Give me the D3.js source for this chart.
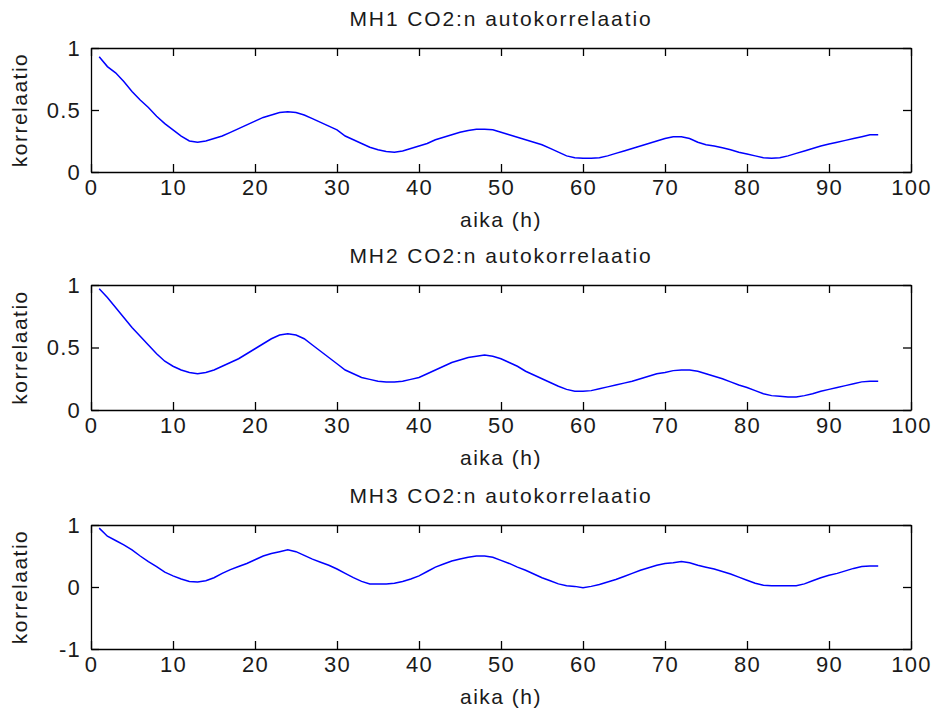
<!DOCTYPE html>
<html>
<head>
<meta charset="utf-8">
<script src="https://cdn.jsdelivr.net/npm/d3@7"></script>
<style>
  body { margin: 0; background: #fff; }
  text { font-family: "Liberation Sans", Arial, sans-serif; fill: #1a1a1a; }
</style>
</head>
<body>
<svg width="933" height="713"></svg>
<script>
// lag in hours
const lag = d3.range(1, 97);

const mh1 = [0.93, 0.85, 0.80, 0.73, 0.65, 0.58, 0.52, 0.45, 0.39, 0.34,
  0.29, 0.25, 0.24, 0.25, 0.27, 0.29, 0.32, 0.35, 0.38, 0.41,
  0.44, 0.46, 0.48, 0.485, 0.48, 0.46, 0.43, 0.40, 0.37, 0.34,
  0.29, 0.26, 0.23, 0.20, 0.18, 0.165, 0.16, 0.17, 0.19, 0.21,
  0.23, 0.26, 0.28, 0.30, 0.32, 0.335, 0.345, 0.345, 0.34, 0.32,
  0.30, 0.28, 0.26, 0.24, 0.22, 0.19, 0.16, 0.13, 0.115, 0.11,
  0.11, 0.115, 0.13, 0.15, 0.17, 0.19, 0.21, 0.23, 0.25, 0.27,
  0.285, 0.285, 0.27, 0.24, 0.22, 0.21, 0.195, 0.18, 0.16, 0.145,
  0.13, 0.115, 0.11, 0.115, 0.13, 0.15, 0.17, 0.19, 0.21, 0.225,
  0.24, 0.255, 0.27, 0.285, 0.30, 0.30];

const mh2 = [0.97, 0.90, 0.82, 0.74, 0.66, 0.59, 0.52, 0.45, 0.39, 0.35,
  0.32, 0.30, 0.29, 0.30, 0.32, 0.35, 0.38, 0.41, 0.45, 0.49,
  0.53, 0.57, 0.60, 0.61, 0.60, 0.57, 0.52, 0.47, 0.42, 0.37,
  0.32, 0.29, 0.26, 0.245, 0.23, 0.225, 0.225, 0.23, 0.245, 0.26,
  0.29, 0.32, 0.35, 0.38, 0.40, 0.42, 0.43, 0.44, 0.43, 0.41,
  0.38, 0.35, 0.31, 0.28, 0.25, 0.22, 0.19, 0.165, 0.15, 0.15,
  0.155, 0.17, 0.185, 0.20, 0.215, 0.23, 0.25, 0.27, 0.29, 0.30,
  0.315, 0.32, 0.32, 0.31, 0.29, 0.27, 0.25, 0.225, 0.20, 0.18,
  0.155, 0.13, 0.115, 0.11, 0.105, 0.105, 0.115, 0.13, 0.15, 0.165,
  0.18, 0.195, 0.21, 0.225, 0.23, 0.23];

const mh3 = [0.95, 0.82, 0.75, 0.68, 0.60, 0.50, 0.41, 0.33, 0.24, 0.18,
  0.13, 0.09, 0.08, 0.10, 0.15, 0.22, 0.28, 0.33, 0.38, 0.44,
  0.50, 0.54, 0.57, 0.60, 0.57, 0.51, 0.45, 0.40, 0.35, 0.29,
  0.22, 0.15, 0.09, 0.05, 0.05, 0.05, 0.06, 0.09, 0.13, 0.18,
  0.25, 0.32, 0.37, 0.42, 0.45, 0.48, 0.50, 0.50, 0.48, 0.43,
  0.38, 0.32, 0.27, 0.21, 0.15, 0.10, 0.05, 0.02, 0.01, -0.01,
  0.01, 0.04, 0.08, 0.12, 0.17, 0.22, 0.27, 0.31, 0.35, 0.38,
  0.39, 0.41, 0.39, 0.35, 0.32, 0.29, 0.25, 0.21, 0.16, 0.11,
  0.06, 0.03, 0.02, 0.02, 0.02, 0.02, 0.05, 0.10, 0.15, 0.19,
  0.22, 0.26, 0.30, 0.33, 0.34, 0.34];

const titles = ["MH1 CO2:n autokorrelaatio", "MH2 CO2:n autokorrelaatio", "MH3 CO2:n autokorrelaatio"];
const yDomains = [[0, 1], [0, 1], [-1, 1]];
const yTicks = [[0, 0.5, 1], [0, 0.5, 1], [-1, 0, 1]];
const xTicks = d3.range(0, 101, 10);
const series = [mh1, mh2, mh3];

const svg = d3.select("svg");
const left = 91, right = 911;
const tops = [48, 285, 525], bottoms = [172, 410, 649];
const tickLen = 8;

series.forEach((vals, k) => {
  const x = d3.scaleLinear().domain([0, 100]).range([left, right]);
  const y = d3.scaleLinear().domain(yDomains[k]).range([bottoms[k], tops[k]]);
  const g = svg.append("g");

  // matlab style: ticks pointing inward on all four sides, labels only bottom/left
  const axes = [
    [d3.axisBottom(x), `translate(0,${bottoms[k]})`, xTicks, true],
    [d3.axisTop(x), `translate(0,${tops[k]})`, xTicks, false],
    [d3.axisLeft(y), `translate(${left},0)`, yTicks[k], true],
    [d3.axisRight(y), `translate(${right},0)`, yTicks[k], false]
  ];
  axes.forEach(([ax, tr, tv, labels], i) => {
    const a = g.append("g")
      .attr("transform", tr)
      .call(ax.tickValues(tv).tickSizeInner(-tickLen).tickSizeOuter(0).tickPadding(10)
        .tickFormat(d => String(d)));
    a.select(".domain").attr("stroke", "#000").attr("stroke-width", 1.3);
    a.selectAll(".tick line").attr("stroke", "#000").attr("stroke-width", 1.3);
    a.selectAll(".tick text").attr("font-size", 22).attr("fill", "#1a1a1a")
      .attr("letter-spacing", 1.2)
      .attr("font-family", "'Liberation Sans', Arial, sans-serif");
    if (!labels) a.selectAll(".tick text").remove();
    if (i === 0) a.selectAll(".tick text").attr("dy", "0.6em");
  });

  g.append("path")
    .datum(vals)
    .attr("fill", "none")
    .attr("stroke", "#0000ff")
    .attr("stroke-width", 1.5)
    .attr("d", d3.line().x((d, i) => x(lag[i])).y(d => y(d)));

  g.append("text")
    .attr("x", (left + right) / 2)
    .attr("y", tops[k] - 22)
    .attr("text-anchor", "middle")
    .attr("font-size", 21)
    .attr("letter-spacing", 1.9)
    .text(titles[k]);

  g.append("text")
    .attr("x", (left + right) / 2)
    .attr("y", bottoms[k] + 55)
    .attr("text-anchor", "middle")
    .attr("font-size", 21)
    .attr("letter-spacing", 1.5)
    .text("aika (h)");

  g.append("text")
    .attr("transform", `translate(27,${(tops[k] + bottoms[k]) / 2}) rotate(-90)`)
    .attr("text-anchor", "middle")
    .attr("font-size", 21)
    .attr("letter-spacing", 1.5)
    .text("korrelaatio");
});
</script>
</body>
</html>
